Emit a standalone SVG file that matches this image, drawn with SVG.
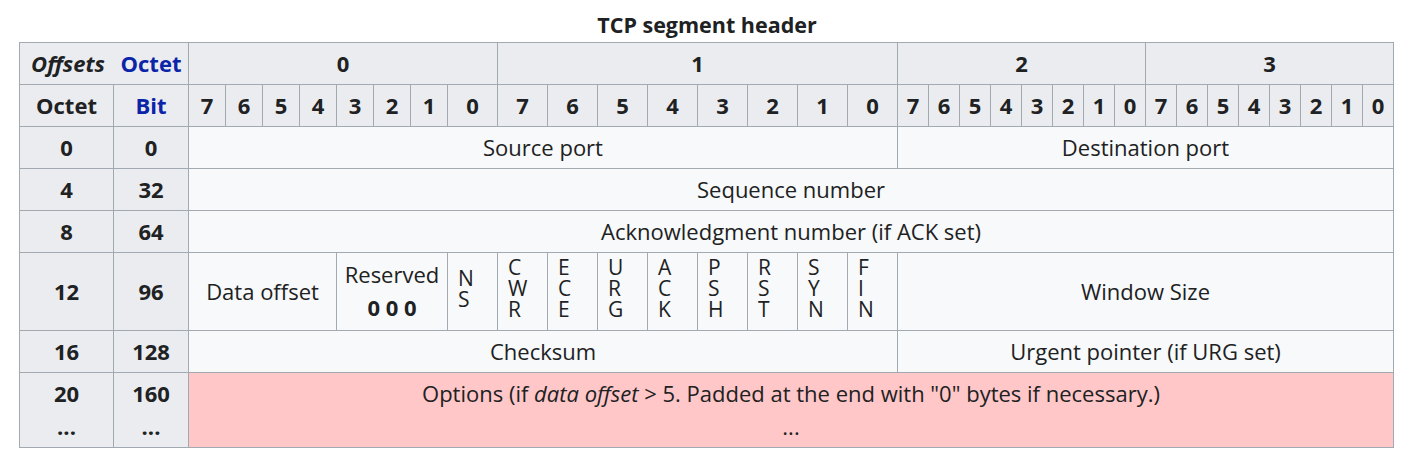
<svg xmlns="http://www.w3.org/2000/svg" width="1414" height="460" viewBox="0 0 1414 460">
<style>
rect{stroke:#a2a9b1;stroke-width:1}
.h{fill:#eaecf0}
.c{fill:#f8f9fa}
.o{fill:#ffc7c8}
text{font-family:"Open Sans","Noto Sans","Liberation Sans",sans-serif;font-size:22px;fill:#202122}
.m{text-anchor:middle}
.b{font-weight:bold}
.bl{fill:#0b24a8}
.i{font-style:italic}
.f{font-size:21px}
.title{font-size:21.5px}
</style>
<text class="m b title" x="707" y="33">TCP segment header</text>
<g id="connectors"/>
<g id="head-offsets"><rect class="h" x="19.5" y="42.5" width="169" height="42"/><text class="b i m" x="68" y="72">Offsets</text><text class="b m bl" x="151" y="72">Octet</text></g>
<g id="head-octet0"><rect class="h" x="188.5" y="42.5" width="309" height="42"/><text class="b m" x="343" y="72">0</text></g>
<g id="head-octet1"><rect class="h" x="497.5" y="42.5" width="400" height="42"/><text class="b m" x="697.5" y="72">1</text></g>
<g id="head-octet2"><rect class="h" x="897.5" y="42.5" width="248" height="42"/><text class="b m" x="1021.5" y="72">2</text></g>
<g id="head-octet3"><rect class="h" x="1145.5" y="42.5" width="248" height="42"/><text class="b m" x="1269.5" y="72">3</text></g>
<g id="head-octet"><rect class="h" x="19.5" y="84.5" width="94" height="42"/><text class="b m" x="66.5" y="114">Octet</text></g>
<g id="head-bit"><rect class="h" x="113.5" y="84.5" width="75" height="42"/><text class="b m bl" x="151" y="114">Bit</text></g>
<g id="bits">
<rect class="h" x="188.5" y="84.5" width="37" height="42"/><text class="b m" x="207" y="114">7</text>
<rect class="h" x="225.5" y="84.5" width="37" height="42"/><text class="b m" x="244" y="114">6</text>
<rect class="h" x="262.5" y="84.5" width="37" height="42"/><text class="b m" x="281" y="114">5</text>
<rect class="h" x="299.5" y="84.5" width="37" height="42"/><text class="b m" x="318" y="114">4</text>
<rect class="h" x="336.5" y="84.5" width="37" height="42"/><text class="b m" x="355" y="114">3</text>
<rect class="h" x="373.5" y="84.5" width="37" height="42"/><text class="b m" x="392" y="114">2</text>
<rect class="h" x="410.5" y="84.5" width="37" height="42"/><text class="b m" x="429" y="114">1</text>
<rect class="h" x="447.5" y="84.5" width="50" height="42"/><text class="b m" x="472.5" y="114">0</text>
<rect class="h" x="497.5" y="84.5" width="50" height="42"/><text class="b m" x="522.5" y="114">7</text>
<rect class="h" x="547.5" y="84.5" width="50" height="42"/><text class="b m" x="572.5" y="114">6</text>
<rect class="h" x="597.5" y="84.5" width="50" height="42"/><text class="b m" x="622.5" y="114">5</text>
<rect class="h" x="647.5" y="84.5" width="50" height="42"/><text class="b m" x="672.5" y="114">4</text>
<rect class="h" x="697.5" y="84.5" width="50" height="42"/><text class="b m" x="722.5" y="114">3</text>
<rect class="h" x="747.5" y="84.5" width="50" height="42"/><text class="b m" x="772.5" y="114">2</text>
<rect class="h" x="797.5" y="84.5" width="50" height="42"/><text class="b m" x="822.5" y="114">1</text>
<rect class="h" x="847.5" y="84.5" width="50" height="42"/><text class="b m" x="872.5" y="114">0</text>
<rect class="h" x="897.5" y="84.5" width="31" height="42"/><text class="b m" x="913" y="114">7</text>
<rect class="h" x="928.5" y="84.5" width="31" height="42"/><text class="b m" x="944" y="114">6</text>
<rect class="h" x="959.5" y="84.5" width="31" height="42"/><text class="b m" x="975" y="114">5</text>
<rect class="h" x="990.5" y="84.5" width="31" height="42"/><text class="b m" x="1006" y="114">4</text>
<rect class="h" x="1021.5" y="84.5" width="31" height="42"/><text class="b m" x="1037" y="114">3</text>
<rect class="h" x="1052.5" y="84.5" width="31" height="42"/><text class="b m" x="1068" y="114">2</text>
<rect class="h" x="1083.5" y="84.5" width="31" height="42"/><text class="b m" x="1099" y="114">1</text>
<rect class="h" x="1114.5" y="84.5" width="31" height="42"/><text class="b m" x="1130" y="114">0</text>
<rect class="h" x="1145.5" y="84.5" width="31" height="42"/><text class="b m" x="1161" y="114">7</text>
<rect class="h" x="1176.5" y="84.5" width="31" height="42"/><text class="b m" x="1192" y="114">6</text>
<rect class="h" x="1207.5" y="84.5" width="31" height="42"/><text class="b m" x="1223" y="114">5</text>
<rect class="h" x="1238.5" y="84.5" width="31" height="42"/><text class="b m" x="1254" y="114">4</text>
<rect class="h" x="1269.5" y="84.5" width="31" height="42"/><text class="b m" x="1285" y="114">3</text>
<rect class="h" x="1300.5" y="84.5" width="31" height="42"/><text class="b m" x="1316" y="114">2</text>
<rect class="h" x="1331.5" y="84.5" width="31" height="42"/><text class="b m" x="1347" y="114">1</text>
<rect class="h" x="1362.5" y="84.5" width="31" height="42"/><text class="b m" x="1378" y="114">0</text>
</g>
<g id="row0-octet"><rect class="h" x="19.5" y="126.5" width="94" height="42"/><text class="b m" x="66.5" y="156">0</text></g>
<g id="row0-bit"><rect class="h" x="113.5" y="126.5" width="75" height="42"/><text class="b m" x="151" y="156">0</text></g>
<g id="source-port"><rect class="c" x="188.5" y="126.5" width="709" height="42"/><text class="m" x="543" y="156">Source port</text></g>
<g id="destination-port"><rect class="c" x="897.5" y="126.5" width="496" height="42"/><text class="m" x="1145.5" y="156">Destination port</text></g>
<g id="row1-octet"><rect class="h" x="19.5" y="168.5" width="94" height="42"/><text class="b m" x="66.5" y="198">4</text></g>
<g id="row1-bit"><rect class="h" x="113.5" y="168.5" width="75" height="42"/><text class="b m" x="151" y="198">32</text></g>
<g id="sequence-number"><rect class="c" x="188.5" y="168.5" width="1205" height="42"/><text class="m" x="791" y="198">Sequence number</text></g>
<g id="row2-octet"><rect class="h" x="19.5" y="210.5" width="94" height="42"/><text class="b m" x="66.5" y="240">8</text></g>
<g id="row2-bit"><rect class="h" x="113.5" y="210.5" width="75" height="42"/><text class="b m" x="151" y="240">64</text></g>
<g id="ack-number"><rect class="c" x="188.5" y="210.5" width="1205" height="42"/><text class="m" x="791" y="240">Acknowledgment number (if ACK set)</text></g>
<g id="row3-octet"><rect class="h" x="19.5" y="252.5" width="94" height="78"/><text class="b m" x="66.5" y="300">12</text></g>
<g id="row3-bit"><rect class="h" x="113.5" y="252.5" width="75" height="78"/><text class="b m" x="151" y="300">96</text></g>
<g id="data-offset"><rect class="c" x="188.5" y="252.5" width="148" height="78"/><text class="m" x="262.5" y="300">Data offset</text></g>
<g id="reserved"><rect class="c" x="336.5" y="252.5" width="111" height="78"/><text class="m" x="392" y="283">Reserved</text><text class="m b" x="392" y="316">0 0 0</text></g>
<g id="flag-ns"><rect class="c" x="447.5" y="252.5" width="50" height="78"/><text class="f"><tspan x="458" y="285.5">N</tspan><tspan x="458" y="306.5">S</tspan></text></g>
<g id="flag-cwr"><rect class="c" x="497.5" y="252.5" width="50" height="78"/><text class="f"><tspan x="508" y="275">C</tspan><tspan x="508" y="296">W</tspan><tspan x="508" y="317">R</tspan></text></g>
<g id="flag-ece"><rect class="c" x="547.5" y="252.5" width="50" height="78"/><text class="f"><tspan x="558" y="275">E</tspan><tspan x="558" y="296">C</tspan><tspan x="558" y="317">E</tspan></text></g>
<g id="flag-urg"><rect class="c" x="597.5" y="252.5" width="50" height="78"/><text class="f"><tspan x="608" y="275">U</tspan><tspan x="608" y="296">R</tspan><tspan x="608" y="317">G</tspan></text></g>
<g id="flag-ack"><rect class="c" x="647.5" y="252.5" width="50" height="78"/><text class="f"><tspan x="658" y="275">A</tspan><tspan x="658" y="296">C</tspan><tspan x="658" y="317">K</tspan></text></g>
<g id="flag-psh"><rect class="c" x="697.5" y="252.5" width="50" height="78"/><text class="f"><tspan x="708" y="275">P</tspan><tspan x="708" y="296">S</tspan><tspan x="708" y="317">H</tspan></text></g>
<g id="flag-rst"><rect class="c" x="747.5" y="252.5" width="50" height="78"/><text class="f"><tspan x="758" y="275">R</tspan><tspan x="758" y="296">S</tspan><tspan x="758" y="317">T</tspan></text></g>
<g id="flag-syn"><rect class="c" x="797.5" y="252.5" width="50" height="78"/><text class="f"><tspan x="808" y="275">S</tspan><tspan x="808" y="296">Y</tspan><tspan x="808" y="317">N</tspan></text></g>
<g id="flag-fin"><rect class="c" x="847.5" y="252.5" width="50" height="78"/><text class="f"><tspan x="858" y="275">F</tspan><tspan x="858" y="296">I</tspan><tspan x="858" y="317">N</tspan></text></g>
<g id="window-size"><rect class="c" x="897.5" y="252.5" width="496" height="78"/><text class="m" x="1145.5" y="300">Window Size</text></g>
<g id="row4-octet"><rect class="h" x="19.5" y="330.5" width="94" height="42"/><text class="b m" x="66.5" y="360">16</text></g>
<g id="row4-bit"><rect class="h" x="113.5" y="330.5" width="75" height="42"/><text class="b m" x="151" y="360">128</text></g>
<g id="checksum"><rect class="c" x="188.5" y="330.5" width="709" height="42"/><text class="m" x="543" y="360">Checksum</text></g>
<g id="urgent-pointer"><rect class="c" x="897.5" y="330.5" width="496" height="42"/><text class="m" x="1145.5" y="360">Urgent pointer (if URG set)</text></g>
<g id="row5-octet"><rect class="h" x="19.5" y="372.5" width="94" height="75"/><text class="b m" x="66.5" y="402">20</text><text class="b m" x="66.5" y="435">...</text></g>
<g id="row5-bit"><rect class="h" x="113.5" y="372.5" width="75" height="75"/><text class="b m" x="151" y="402">160</text><text class="b m" x="151" y="435">...</text></g>
<g id="options"><rect class="o" x="188.5" y="372.5" width="1205" height="75"/><text class="m" x="791" y="402">Options (if <tspan class="i">data offset</tspan> &gt; 5. Padded at the end with "0" bytes if necessary.)</text><text class="m" x="791" y="435">...</text></g>
</svg>
